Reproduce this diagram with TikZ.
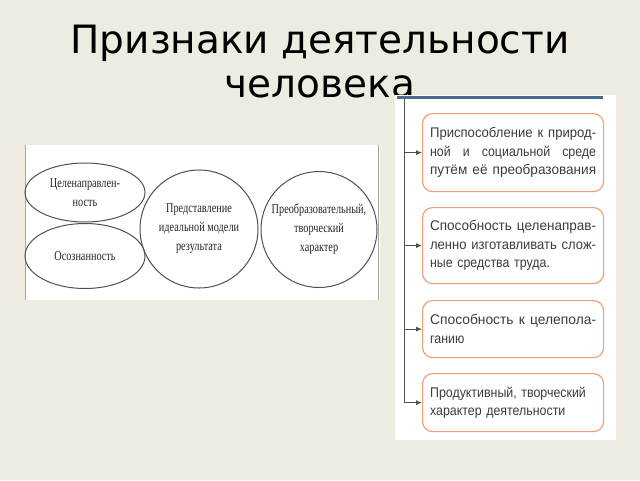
\documentclass[tikz,border=0pt]{standalone}
\usepackage{fontspec}
\usepackage{graphicx}
\setmainfont{Liberation Serif}
\newfontfamily\titlefont{DejaVu Sans}
\newfontfamily\boxfont[FakeStretch=0.885]{Liberation Sans}
\newfontfamily\ovalfont[FakeStretch=0.76]{Liberation Serif}
\usetikzlibrary{shapes.geometric,arrows.meta}
\definecolor{bgc}{RGB}{238,236,225}
\definecolor{barblue}{RGB}{72,108,140}
\definecolor{boxor}{RGB}{240,160,120}
\definecolor{txtgray}{RGB}{60,60,60}
\definecolor{linegray}{RGB}{80,80,80}
\tikzset{
  titletext/.style={font=\titlefont\fontsize{39}{44}\selectfont, anchor=base, inner sep=0pt},
  oval/.style={ellipse, draw=linegray, line width=1pt, inner sep=0pt, align=center,
    font=\ovalfont\fontsize{13.5}{19}\selectfont, text=black!85},
  rbox/.style={draw=boxor, line width=1.2pt, rounded corners=10pt, anchor=north west,
    minimum width=181pt, text width=166pt, inner xsep=7.5pt, inner ysep=0pt, align=left,
    font=\boxfont\fontsize{14}{18.5}\selectfont, text=txtgray},
  feed/.style={draw=linegray, line width=0.8pt, -{Latex[length=6pt,width=5pt]}}
}
\newcommand{\fl}[1]{\leavevmode\makebox[166pt][l]{#1}}
\newcommand{\rl}[1]{\leavevmode\resizebox{166pt}{\height}{#1}}
\begin{document}
\begin{tikzpicture}[x=1pt,y=-1pt]
\useasboundingbox (0,0) rectangle (640,480);
\fill[bgc] (0,0) rectangle (640,480);
% title
\node[titletext] (t1) at (320,53) {Признаки деятельности};
\node[titletext] (t2) at (320,97) {человека};
% left panel
\fill[white] (25,145) rectangle (380,300);
\draw[gray!70, line width=0.6pt] (25.5,145) -- (25.5,300);
\draw[gray!70, line width=0.6pt] (378.5,145) -- (378.5,300);
\node[oval, minimum width=120pt, minimum height=59pt] (e1) at (85,192.5) {Целенаправлен-\\ность};
\node[oval, minimum width=120pt, minimum height=65pt] (e2) at (85,256) {Осознанность};
\node[oval, circle, minimum size=118pt] (c1) at (199,229) {Представление\\идеальной модели\\результата};
\node[oval, circle, minimum size=116pt] (c2) at (319,229.5) {Преобразовательный,\\творческий\\характер};
% right panel
\fill[white] (395,95) rectangle (616,440);
\node[rbox, minimum height=78pt] (b1) at (422,113) {\rl{Приспособление к природ-}\\\fl{ной\hfill и\hfill социальной\hfill среде}\\\rl{путём её преобразования}};
\node[rbox, minimum height=76pt] (b2) at (422,207) {\rl{Способность целенаправ-}\\\rl{ленно изготавливать слож-}\\ные средства труда.};
\node[rbox, minimum height=57pt] (b3) at (422,300) {\rl{Способность к целепола-}\\ганию};
\node[rbox, minimum height=58pt] (b4) at (422,373) {Продуктивный, творческий\\характер деятельности};
\coordinate (top) at (404,98);
\coordinate (j1) at (404,|-b1.west);
\coordinate (j2) at (404,|-b2.west);
\coordinate (j3) at (404,|-b3.west);
\coordinate (j4) at (404,|-b4.west);
\draw[linegray, line width=0.8pt] (top) -- (j4);
\draw[feed] (j1) -- (b1.west);
\draw[feed] (j2) -- (b2.west);
\draw[feed] (j3) -- (b3.west);
\draw[feed] (j4) -- (b4.west);
\coordinate (bl) at (397,97);
\coordinate (br) at (603,97);
\draw[barblue, line width=3pt] (bl) -- (br);
\end{tikzpicture}
\end{document}
